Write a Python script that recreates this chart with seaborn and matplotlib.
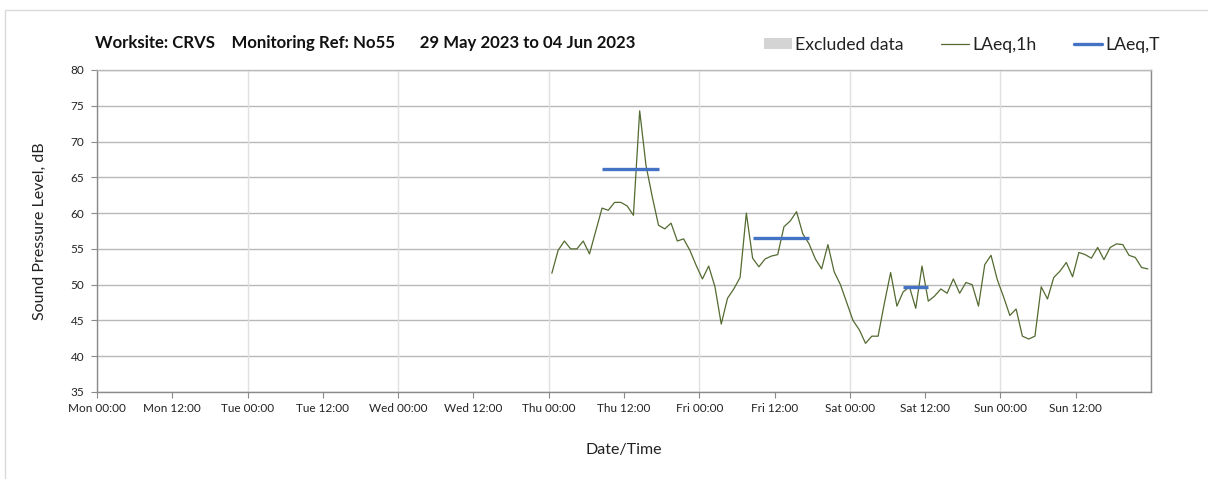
import numpy as np
import pandas as pd
import matplotlib
matplotlib.use("Agg")
import matplotlib.pyplot as plt
import matplotlib.dates as mdates
from matplotlib.lines import Line2D
from matplotlib.patches import Patch, Rectangle
import seaborn as sns

# ---------------- data ----------------
title_text = "Worksite: CRVS    Monitoring Ref: No55      29 May 2023 to 04 Jun 2023"
week_start = "2023-05-29 00:00"
week_end = "2023-06-05 00:00"
first_sample = "2023-06-01 00:30"

laeq_1h = [
    51.6, 54.8, 56.1, 55.0, 55.0, 56.1, 54.3, 57.5, 60.7, 60.4,
    61.5, 61.5, 61.0, 59.7, 74.3, 66.7, 62.3, 58.3, 57.8, 58.6,
    56.1, 56.4, 54.8, 52.7, 50.8, 52.6, 49.7, 44.5, 48.1, 49.4,
    51.0, 60.0, 53.7, 52.5, 53.6, 54.0, 54.2, 58.1, 58.9, 60.2,
    57.1, 55.7, 53.6, 52.2, 55.6, 51.8, 50.0, 47.5, 45.0, 43.7,
    41.8, 42.8, 42.8, 47.4, 51.7, 47.0, 49.0, 49.7, 46.7, 52.6,
    47.7, 48.4, 49.4, 48.8, 50.8, 48.8, 50.3, 50.0, 47.0, 52.8,
    54.1, 50.7, 48.3, 45.7, 46.6, 42.8, 42.4, 42.8, 49.7, 48.0,
    51.0, 51.9, 53.1, 51.1, 54.5, 54.2, 53.7, 55.2, 53.5, 55.2,
    55.7, 55.6, 54.1, 53.8, 52.4, 52.2,
]

laeq_t_start = ["2023-06-01 08:30", "2023-06-02 08:30", "2023-06-03 08:30"]
laeq_t_end = ["2023-06-01 17:30", "2023-06-02 17:30", "2023-06-03 12:30"]
laeq_t_value = [66.1, 56.5, 49.7]

y_ticks = [35, 40, 45, 50, 55, 60, 65, 70, 75, 80]

# ---------------- style ----------------
sns.set_theme(style="white")
plt.rcParams["font.family"] = ["Lato", "DejaVu Sans"]

W, H = 1208, 479
fig = plt.figure(figsize=(W / 100, H / 100), dpi=100)
ax = fig.add_axes([97 / W, 1 - 392 / H, (1151 - 97) / W, (392 - 70) / H])

times = pd.date_range(first_sample, periods=len(laeq_1h), freq="h")
df = pd.DataFrame({"time": times, "LAeq,1h": laeq_1h})

green = "#536A30"
blue = "#4472C4"

sns.lineplot(data=df, x="time", y="LAeq,1h", ax=ax, color=green, lw=0.9,
             legend=False, zorder=3)

ax.hlines(laeq_t_value, pd.to_datetime(laeq_t_start), pd.to_datetime(laeq_t_end),
          colors=blue, lw=2.4, zorder=4)

# axes limits & ticks
x0 = pd.Timestamp(week_start)
x1 = pd.Timestamp(week_end)
ax.set_xlim(x0, x1)
ax.set_ylim(35, 80)
ax.set_yticks(y_ticks)
ax.set_yticklabels([str(v) for v in y_ticks])

xt = pd.date_range(x0, x1 - pd.Timedelta(hours=12), freq="12h")
ax.set_xticks(xt)
ax.set_xticklabels([t.strftime("%a %H:%M") for t in xt])

# gridlines
for v in y_ticks:
    ax.axhline(v, color="#b8b8b8", lw=1.0, zorder=1)
for d in pd.date_range(x0, x1, freq="24h"):
    ax.axvline(d, color="#e0e0e0", lw=1.0, zorder=1)

for s in ax.spines.values():
    s.set_color("#8a8a8a")
    s.set_linewidth(1.0)
ax.spines["top"].set_color("#b8b8b8")

ax.tick_params(axis="x", direction="out", length=4, width=0.8, color="#8a8a8a",
               labelsize=8.5, labelcolor="#222222", pad=4, bottom=True)
ax.tick_params(axis="y", direction="out", length=4, width=0.8, color="#8a8a8a",
               labelsize=8.5, labelcolor="#222222", pad=5, left=True)

ax.set_xlabel("Date/Time", fontsize=11.5, color="#222222", labelpad=21)
ax.set_ylabel("Sound Pressure Level, dB", fontsize=11.5, color="#222222", labelpad=17)

# title
fig.text(95 / W, 1 - 43 / H, title_text, fontsize=12.1, fontweight="bold",
         color="#111111", ha="left", va="center")

# legend
handles = [
    Patch(facecolor="#d4d4d4", edgecolor="none", label="Excluded data"),
    Line2D([], [], color=green, lw=0.9, label="LAeq,1h"),
    Line2D([], [], color=blue, lw=2.4, label="LAeq,T"),
]
fig.legend(handles=handles, loc="center right", bbox_to_anchor=(1176 / W, 1 - 45 / H),
           ncol=3, frameon=False, fontsize=12.7, handlelength=1.6, handleheight=0.6,
           handletextpad=0.2, columnspacing=2.1, labelcolor="#222222")

# outer figure border
fig.patches.append(Rectangle((5 / W, -0.01), 1.0, 1 - 10 / H + 0.01,
                             transform=fig.transFigure, fill=False,
                             edgecolor="#d9d9d9", lw=1.0))

fig.savefig("out.png", dpi=100)
